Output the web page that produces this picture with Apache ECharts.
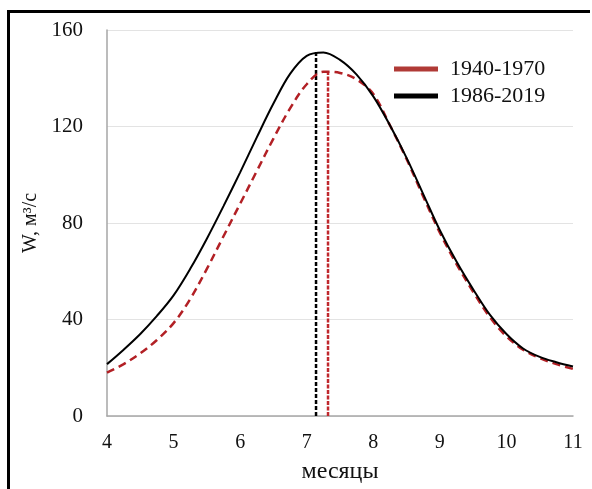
<!DOCTYPE html>
<html>
<head>
<meta charset="utf-8">
<script src="https://cdn.jsdelivr.net/npm/echarts@6/dist/echarts.min.js"></script>
<style>
html,body{margin:0;padding:0;background:#fff;}
#frame{position:absolute;left:7px;top:10px;width:583px;height:479px;border-left:3px solid #000;border-top:3px solid #000;box-sizing:border-box;pointer-events:none;}
#chart{position:absolute;left:0;top:0;width:592px;height:489px;}
</style>
</head>
<body>
<div id="chart"></div>
<div id="frame"></div>
<script>
// Data
const xTicks = [4, 5, 6, 7, 8, 9, 10, 11];
const yTicks = [0, 40, 80, 120, 160];
const seriesNames = ['1940-1970', '1986-2019'];

const months = [4, 4.25, 4.5, 4.75, 5, 5.25, 5.5, 5.75, 6, 6.25, 6.5, 6.75, 7, 7.25, 7.5, 7.75, 8, 8.25, 8.5, 8.75, 9, 9.25, 9.5, 9.75, 10, 10.25, 10.5, 10.75, 11];
const blackY = [21.5, 27.5, 34, 41.5, 50, 61, 73.5, 87, 101, 115.5, 129.5, 141.8, 149.3, 150.7, 147.6, 141.5, 132.5, 120.5, 107, 92, 77, 64, 52.5, 42, 34, 28, 24.5, 22.3, 20.5];
const redY = [18, 21.5, 26, 31.5, 38.5, 48.5, 61, 74.5, 88, 101.5, 115, 127.5, 137.5, 142.7, 142.2, 139.5, 133.5, 120.5, 106.5, 91, 76, 63, 51.5, 41, 33, 27.5, 24, 21.5, 19.5];

const peakBlack = [7.14, 151];
const peakRed = [7.32, 142.8];

const pair = (xs, ys) => xs.map((x, i) => [x, ys[i]]);

const chart = echarts.init(document.getElementById('chart'), null, {renderer: 'canvas'});
const serif = 'Liberation Serif';

chart.setOption({
  animation: false,
  backgroundColor: '#fff',
  grid: {left: 107, top: 30, right: 19, bottom: 67, containLabel: false},
  legend: {
    orient: 'vertical',
    left: 389,
    top: 53,
    itemWidth: 44,
    itemHeight: 5,
    itemGap: 5,
    textStyle: {fontFamily: serif, fontSize: 22, color: '#111', padding: [0, 0, 0, 7]},
    data: [
      {name: seriesNames[0], icon: 'rect', itemStyle: {color: '#b03a36'}, lineStyle: {type: 'solid', width: 5, color: '#b03a36'}},
      {name: seriesNames[1], icon: 'rect', itemStyle: {color: '#000'}, lineStyle: {type: 'solid', width: 4, color: '#000'}}
    ]
  },
  xAxis: {
    type: 'value',
    min: xTicks[0], max: xTicks[xTicks.length - 1], interval: 1,
    name: 'месяцы',
    nameLocation: 'middle',
    nameGap: 44,
    nameTextStyle: {fontFamily: serif, fontSize: 24, color: '#111'},
    axisLine: {lineStyle: {color: '#a6a6a6', width: 1.5}},
    axisTick: {show: false},
    splitLine: {show: false},
    axisLabel: {fontFamily: serif, fontSize: 20, color: '#111', margin: 17}
  },
  yAxis: {
    type: 'value',
    min: yTicks[0], max: yTicks[yTicks.length - 1], interval: 40,
    name: 'W, м³/с',
    nameLocation: 'middle',
    nameGap: 54,
    nameRotate: 90,
    nameTextStyle: {fontFamily: serif, fontSize: 20, color: '#111'},
    axisLine: {show: true, lineStyle: {color: '#a6a6a6', width: 1.5}},
    axisTick: {show: false},
    splitLine: {lineStyle: {color: '#e3e3e3', width: 1}},
    axisLabel: {fontFamily: serif, fontSize: 21, color: '#111', margin: 24}
  },
  series: [
    {
      name: seriesNames[0],
      type: 'line',
      smooth: 0.35,
      symbol: 'none',
      data: pair(months, redY),
      lineStyle: {color: '#b22025', width: 2.5, type: [8, 5]},
      itemStyle: {color: '#b03a36'},
      z: 3
    },
    {
      name: seriesNames[1],
      type: 'line',
      smooth: 0.35,
      symbol: 'none',
      data: pair(months, blackY),
      lineStyle: {color: '#000', width: 2},
      itemStyle: {color: '#000'},
      z: 4
    },
    {
      name: 'peakBlack',
      type: 'line',
      symbol: 'none',
      data: [[peakBlack[0], 0], peakBlack],
      lineStyle: {color: '#000', width: 2.5, type: [4, 2]},
      z: 2
    },
    {
      name: 'peakRed',
      type: 'line',
      symbol: 'none',
      data: [[peakRed[0], 0], peakRed],
      lineStyle: {color: '#c0282d', width: 2.5, type: [4, 1.5]},
      z: 2
    }
  ]
});
</script>
</body>
</html>
